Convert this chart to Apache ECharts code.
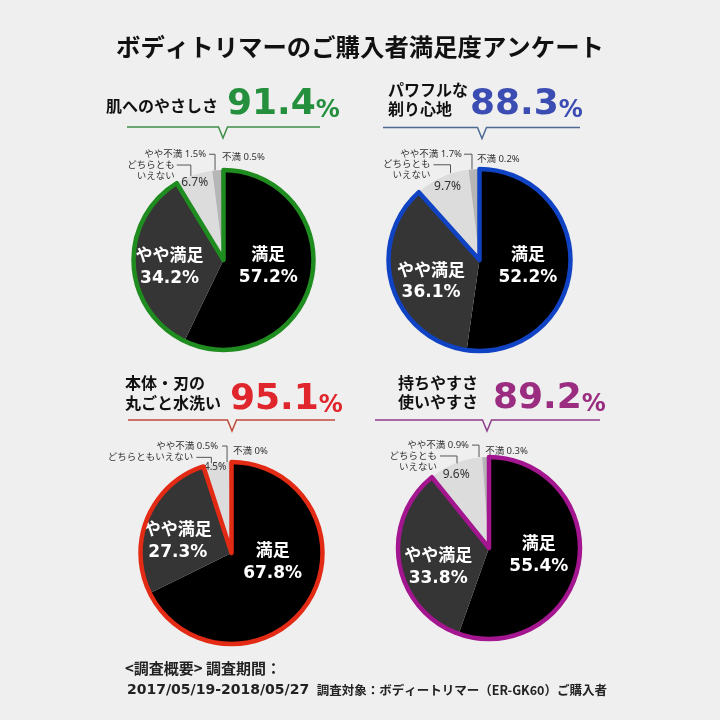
<!DOCTYPE html>
<html><head><meta charset="utf-8">
<script src="https://cdn.jsdelivr.net/npm/echarts@6/dist/echarts.min.js"></script>
<style>html,body{margin:0;padding:0;background:#efefef}#c{width:720px;height:720px}</style>
</head><body><div id="c"></div>
<script>
// ---- data ----
const categories = ['満足', 'やや満足', 'どちらともいえない', 'やや不満', '不満'];
const panelTitles = ['肌へのやさしさ', 'パワフルな\n剃り心地', '本体・刃の\n丸ごと水洗い', '持ちやすさ\n使いやすさ'];
const headlineValues = [91.4, 88.3, 95.1, 89.2];
const skinValues = [57.2, 34.2, 6.7, 1.5, 0.5];
const powerValues = [52.2, 36.1, 9.7, 1.7, 0.2];
const washValues = [67.8, 27.3, 4.5, 0.5, 0];
const gripValues = [55.4, 33.8, 9.6, 0.9, 0.3];
const neutralLabels = ['どちらとも\nいえない', 'どちらとも\nいえない', 'どちらともいえない', 'どちらとも\nいえない'];
const titleText = 'ボディトリマーのご購入者満足度アンケート';
const footerLine1 = '<調査概要> 調査期間：';
const footerDate = '2017/05/19-2018/05/27';
const footerTarget = '調査対象：ボディートリマー（ER-GK60）ご購入者';

// ---- style / layout ----
const CJK = "'Noto Sans CJK JP'";
const NUMF = "'DejaVu Sans','Noto Sans CJK JP'";
const SMALLF = "'Noto Sans','Noto Sans CJK JP'";
const sliceColors = ['#000000', '#353535', '#dcdcdc', '#b6b6b6', '#8e8e8e'];

const panels = [
  {values: skinValues, center: [223.5, 260], r: 90, accent: '#1f8c1f', numColor: '#24903d', lineColor: '#3f8f48',
   titlePos: {x: 218, y: 106, align: 'right', lh: 19}, numPos: {x: 227, y: 103},
   rule: {y: 127, x1: 127, x2: 320, notch: 223},
   inside: [[-2, -5], [-6, 4], [-13, -32]], neutralPctSize: 12,
   minor: {dx: -1.4, rise: 16, len: 6, gap: 3}, fuman: {dx: 0, rise: 13},
   neutralLine: {dx: -3, bot: 1, rise: 10, len: 14, gap: 2}},
  {values: powerValues, center: [479.5, 260], r: 91, accent: '#1043c4', numColor: '#3b4cb3', lineColor: '#4d6a94',
   titlePos: {x: 388, y: 99.5, align: 'left', lh: 19}, numPos: {x: 470, y: 103},
   rule: {y: 127.5, x1: 383, x2: 580, notch: 482},
   inside: [[0, 2], [-2, 7], [-12, -29]], neutralPctSize: 12,
   minor: {dx: -1.5, rise: 15, len: 8, gap: 2}, fuman: {dx: -2, rise: 10},
   neutralLine: {dx: 8.5, bot: -4, rise: 12.3, len: 17, gap: 3}},
  {values: washValues, center: [231.5, 553], r: 91, accent: '#e22a14', numColor: '#e0262c', lineColor: '#c24a3c',
   titlePos: {x: 125, y: 393, align: 'left', lh: 20}, numPos: {x: 230, y: 398},
   rule: {y: 420, x1: 128, x2: 335, notch: 232},
   inside: [[0, -17], [-9, 6], [-8, -38]], neutralPctSize: 10,
   minor: {dx: -3, rise: 16, len: 5, gap: 4}, fuman: {dx: 1.5, rise: 11},
   neutralLine: {dx: -4.5, bot: 0, rise: 6, len: 15, gap: 3}},
  {values: gripValues, center: [489, 548], r: 91, accent: '#a3168f', numColor: '#9b2d80', lineColor: '#8f3d8b',
   titlePos: {x: 398, y: 392.5, align: 'left', lh: 19}, numPos: {x: 493, y: 397},
   rule: {y: 420, x1: 375, x2: 600, notch: 487},
   inside: [[2, -2], [-3, 10], [-15, -28]], neutralPctSize: 12,
   minor: {dx: -5.7, rise: 12, len: 7, gap: 3}, fuman: {dx: -3, rise: 6},
   neutralLine: {dx: 1.5, bot: 0, rise: 7.4, len: 17, gap: 3}}
];

const smallLabel = {color: '#333', fontSize: 9.5, fontFamily: SMALLF, lineHeight: 11, textBorderWidth: 0};
const guide = {show: true, lineStyle: {color: '#555', width: 1}};

const series = [];
panels.forEach((pn, k) => {
  // filled slices
  const fillData = pn.values.map((v, i) => {
    const item = {name: categories[i], value: v, itemStyle: {color: sliceColors[i], borderWidth: 0}};
    if (i < 2) {
      item.label = {position: 'inside', formatter: '{a|' + categories[i] + '}\n{b|' + v + '%}',
        rich: {
          a: {color: '#fff', fontSize: 17, fontWeight: 'bold', fontFamily: CJK, lineHeight: 24},
          b: {color: '#fff', fontSize: 17, fontWeight: 'bold', fontFamily: NUMF, lineHeight: 24}
        }, textBorderWidth: 0};
      item.labelLine = {show: false};
    } else if (i === 2) {
      item.label = {position: 'inside', formatter: v + '%', color: '#333', fontSize: pn.neutralPctSize,
        fontFamily: SMALLF, textBorderWidth: 0};
      item.labelLine = {show: false};
    } else {
      item.label = Object.assign({position: 'outside', formatter: categories[i] + ' ' + v + '%'}, smallLabel);
      item.labelLine = guide;
    }
    return item;
  });
  series.push({
    type: 'pie', center: pn.center, radius: pn.r, startAngle: 90, clockwise: true,
    avoidLabelOverlap: false, animation: false, silent: true, z: 2,
    emphasis: {disabled: true},
    label: {show: true}, data: fillData,
    labelLayout: function (p) {
      const i = p.dataIndex;
      if (i <= 2) return {dx: pn.inside[i][0], dy: pn.inside[i][1]};
      const pts = p.labelLinePoints;
      if (!pts) return {};
      const ax = pts[0][0], ay = pts[0][1];
      if (i === 3) {
        const s = pn.minor, lx = ax + s.dx, ly = ay - s.rise;
        return {x: lx - s.len - s.gap, y: ly, align: 'right', verticalAlign: 'middle',
          labelLinePoints: [[lx, ay], [lx, ly], [lx - s.len, ly]]};
      }
      return {x: ax + pn.fuman.dx, y: ay - pn.fuman.rise, align: 'left', verticalAlign: 'middle',
        labelLinePoints: [[ax, ay], [ax, ay], [ax, ay]]};
    }
  });
  // outline around 満足 + やや満足
  const top2 = pn.values[0] + pn.values[1];
  const rest = pn.values.slice(2).reduce((a, b) => a + b, 0);
  series.push({
    type: 'pie', center: pn.center, radius: pn.r, startAngle: 90, clockwise: true,
    animation: false, silent: true, z: 3, emphasis: {disabled: true},
    label: {show: false}, labelLine: {show: false},
    data: [
      {value: top2, itemStyle: {color: 'rgba(0,0,0,0)', borderColor: pn.accent, borderWidth: 4.5, borderJoin: 'round'}},
      {value: rest, itemStyle: {color: 'rgba(0,0,0,0)', borderWidth: 0}}
    ]
  });
  // outside name label for the neutral slice
  series.push({
    type: 'pie', center: pn.center, radius: pn.r, startAngle: 90, clockwise: true,
    avoidLabelOverlap: false, animation: false, silent: true, z: 4, emphasis: {disabled: true},
    data: pn.values.map((v, i) => ({
      name: categories[i], value: v,
      itemStyle: {color: 'rgba(0,0,0,0)', borderWidth: 0},
      label: i === 2 ? Object.assign({show: true, position: 'outside', formatter: neutralLabels[k], align: 'right'}, smallLabel) : {show: false},
      labelLine: i === 2 ? guide : {show: false}
    })),
    labelLayout: function (p) {
      if (p.dataIndex !== 2 || !p.labelLinePoints) return {};
      const pts = p.labelLinePoints;
      const ax = pts[0][0], ay = pts[0][1];
      const s = pn.neutralLine, lx = ax + s.dx, ly = ay - s.rise;
      return {x: lx - s.len - s.gap, y: ly - 5.5, align: 'right', verticalAlign: 'top',
        labelLinePoints: [[lx, ay + s.bot], [lx, ly], [lx - s.len, ly]]};
    }
  });
});

// ---- decorative text / rules ----
const graphics = [];
graphics.push({type: 'text', x: 360, y: 47, style: {text: titleText, font: "bold 24.4px 'Noto Sans CJK JP'",
  fill: '#111', align: 'center', verticalAlign: 'middle', textAlign: 'center', textVerticalAlign: 'middle'}});
panels.forEach((pn, k) => {
  graphics.push({type: 'text', x: pn.titlePos.x, y: pn.titlePos.y, style: {
    text: panelTitles[k], font: "bold 16px 'Noto Sans CJK JP'", fill: '#111', lineHeight: pn.titlePos.lh,
    align: pn.titlePos.align, verticalAlign: 'middle', textAlign: pn.titlePos.align, textVerticalAlign: 'middle'}});
  graphics.push({type: 'text', x: pn.numPos.x, y: pn.numPos.y, style: {
    text: '{n|' + headlineValues[k] + '}{p|%}', align: 'left', verticalAlign: 'middle',
    textAlign: 'left', textVerticalAlign: 'middle',
    rich: {
      n: {fontSize: 36, fontWeight: 'bold', fontFamily: 'DejaVu Sans', fill: pn.numColor, lineHeight: 40, verticalAlign: 'bottom'},
      p: {fontSize: 24, fontWeight: 'bold', fontFamily: 'DejaVu Sans', fill: pn.numColor, lineHeight: 33, verticalAlign: 'bottom'}
    }}});
  const R = pn.rule;
  graphics.push({type: 'polyline', shape: {points: [[R.x1, R.y], [R.notch - 4.5, R.y], [R.notch, R.y + 11], [R.notch + 4.5, R.y], [R.x2, R.y]]},
    style: {stroke: pn.lineColor, lineWidth: 1.5, fill: null}});
});
graphics.push({type: 'text', x: 125, y: 668, style: {text: footerLine1, font: "bold 15px 'Noto Sans CJK JP'", fill: '#222',
  align: 'left', verticalAlign: 'middle', textAlign: 'left', textVerticalAlign: 'middle'}});
graphics.push({type: 'text', x: 127, y: 690, style: {text: '{d|' + footerDate + '}{s|  }{j|' + footerTarget + '}',
  align: 'left', verticalAlign: 'middle', textAlign: 'left', textVerticalAlign: 'middle',
  rich: {
    d: {fontSize: 14, fontWeight: 'bold', fontFamily: 'DejaVu Sans', fill: '#222', lineHeight: 18},
    s: {fontSize: 12, fontFamily: 'DejaVu Sans', fill: '#222', lineHeight: 18},
    j: {fontSize: 12.5, fontWeight: 'bold', fontFamily: 'Noto Sans CJK JP', fill: '#222', lineHeight: 18}
  }}});

const chart = echarts.init(document.getElementById('c'), null, {renderer: 'canvas', width: 720, height: 720});
chart.setOption({
  backgroundColor: '#efefef',
  animation: false,
  series: series,
  graphic: graphics
});
</script></body></html>
